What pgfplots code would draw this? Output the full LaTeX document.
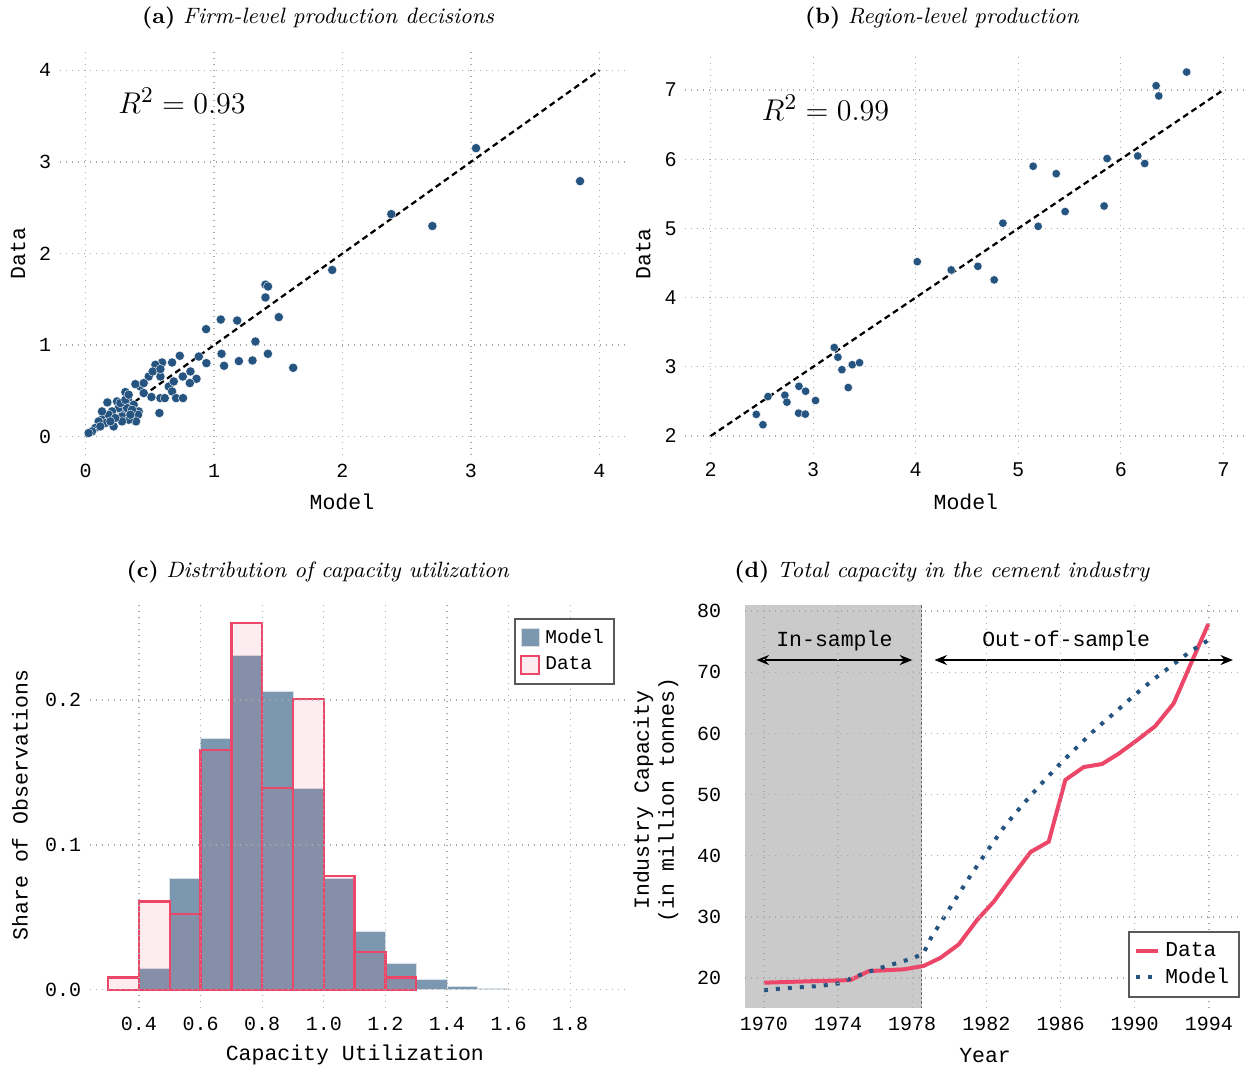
\documentclass[border=0pt]{standalone}
\usepackage{fontspec}
\usepackage{pgfplots}
\pgfplotsset{compat=1.18}
\usetikzlibrary{arrows.meta}
\newfontfamily\monofont{Liberation Mono}
\newfontfamily\sansfont{Liberation Sans}
\definecolor{dotblue}{RGB}{38,84,128}
\definecolor{modelfill}{RGB}{123,152,176}
\definecolor{datared}{RGB}{236,70,105}
\definecolor{shadegray}{RGB}{202,202,202}
\definecolor{gridgray}{RGB}{170,170,170}
\pgfplotsset{
  every axis title/.style={at={(0.5,1)}, anchor=center, font=\fontsize{8.9}{11}\selectfont},
  myaxis/.style={
    scale only axis,
    axis line style={draw=none},
    tick style={draw=none},
    major tick length=0pt,
    grid=major,
    major grid style={gridgray, dotted, line width=0.5pt},
    tick label style={font=\fontsize{8}{9}\monofont},
    /pgf/number format/assume math mode=true,
    label style={font=\fontsize{8.6}{10}\monofont},
    clip=false,
  },
}
\begin{document}
\begin{tikzpicture}
\useasboundingbox (0pt,0pt) rectangle (499.6pt,-427.2pt);
% ---------------- (a)
\begin{axis}[myaxis,
  at={(24pt,-20.8pt)}, anchor=north west,
  width=226pt, height=161.2pt,
  xmin=-0.2, xmax=4.2, ymin=-0.2, ymax=4.2,
  xtick={0,1,2,3,4}, ytick={0,1,2,3,4},
  xlabel={Model}, ylabel={Data},
  xlabel style={at={(axis description cs:0.499,-0.117)}, anchor=center},
  ylabel style={at={(axis description cs:-0.074,0.50)}, anchor=center},
  title={\textbf{(a)} \textit{Firm-level production decisions}},
  title style={at={(axis description cs:0.457,1.084)}},
]
\addplot[black, dash pattern=on 2.4pt off 1.6pt, line width=0.9pt] coordinates {(0,0) (4,4)};
\addplot[only marks, mark=*, mark size=1.85pt, mark options={fill=dotblue, draw=white, line width=0.15pt}] coordinates {
(3.04,3.15) (3.85,2.79) (2.38,2.43) (2.70,2.30) (1.92,1.82)
(1.40,1.66) (1.42,1.64) (1.40,1.52) (1.504,1.305) (1.052,1.279) (1.18,1.268)
(0.938,1.174) (1.322,1.039) (1.058,0.905) (1.193,0.825) (1.299,0.832) (1.419,0.905)
(1.078,0.774) (1.616,0.752) (0.94,0.803) (0.881,0.875) (0.816,0.712) (0.863,0.632)
(0.733,0.883) (0.811,0.585) (0.756,0.657) (0.673,0.81) (0.595,0.81) (0.543,0.785)
(0.491,0.657) (0.582,0.657) (0.647,0.548) (0.686,0.603) (0.673,0.494) (0.582,0.421)
(0.616,0.421) (0.704,0.421) (0.758,0.421) (0.574,0.258) (0.512,0.433) (0.426,0.548)
(0.387,0.574) (0.452,0.585) (0.309,0.487) (0.169,0.374) (0.244,0.385) (0.33,0.403)
(0.374,0.349) (0.413,0.276) (0.408,0.24) (0.392,0.167) (0.288,0.276) (0.283,0.221)
(0.335,0.185) (0.257,0.313) (0.205,0.276) (0.205,0.185) (0.14,0.221) (0.153,0.149)
(0.101,0.167) (0.218,0.112) (0.179,0.24) (0.075,0.095) (0.049,0.058) (0.114,0.112)
(0.283,0.167) (0.231,0.204) (0.192,0.167) (0.322,0.313) (0.361,0.294) (0.27,0.367)
(0.309,0.403) (0.023,0.04) (0.127,0.276) (0.348,0.24) (0.452,0.476) (0.335,0.458)
(0.522,0.712) (0.582,0.738)
};
\node[font=\fontsize{12.5}{15}\selectfont] at (axis cs:0.75,3.67) {$R^2=0.93$};
\end{axis}
% ---------------- (b)
\begin{axis}[myaxis,
  at={(274pt,-21.6pt)}, anchor=north west,
  width=225.6pt, height=160pt,
  xmin=1.75, xmax=7.25, ymin=1.74, ymax=7.52,
  xtick={2,3,4,5,6,7}, ytick={2,3,4,5,6,7},
  tick label style={font=\fontsize{8}{9}\sansfont},
  xlabel={Model}, ylabel={Data},
  xlabel style={at={(axis description cs:0.498,-0.12)}, anchor=center},
  ylabel style={at={(axis description cs:-0.074,0.50)}, anchor=center},
  title={\textbf{(b)} \textit{Region-level production}},
  title style={at={(axis description cs:0.456,1.09)}},
]
\addplot[black, dash pattern=on 2.4pt off 1.6pt, line width=0.9pt] coordinates {(2,2) (7,7)};
\addplot[only marks, mark=*, mark size=1.7pt, mark options={fill=dotblue, draw=white, line width=0.15pt}] coordinates {
(4.015,4.519) (4.346,4.40) (4.606,4.452) (4.765,4.256) (4.85,5.075) (5.145,5.898)
(5.194,5.03) (5.37,5.79) (5.457,5.243) (5.837,5.323) (5.866,6.009) (6.165,6.047)
(6.233,5.937) (6.344,7.062) (6.37,6.914) (6.642,7.259)
(2.559,2.570) (2.445,2.312) (2.51,2.163) (2.724,2.589) (2.744,2.489) (2.861,2.718)
(2.926,2.647) (2.858,2.33) (2.923,2.316) (3.023,2.513) (3.205,3.279) (3.241,3.139)
(3.28,2.958) (3.381,3.03) (3.452,3.059) (3.342,2.70)
};
\node[font=\fontsize{12.5}{15}\selectfont] at (axis cs:3.12,6.74) {$R^2=0.99$};
\end{axis}
% ---------------- (c)
\begin{axis}[myaxis,
  at={(36pt,-242pt)}, anchor=north west,
  width=214pt, height=161.2pt,
  xmin=0.241, xmax=1.978, ymin=-0.0126, ymax=0.2656,
  axis on top,
  xtick={0.4,0.6,...,1.81}, ytick={0,0.1,0.2},
  xticklabel style={/pgf/number format/.cd, fixed, fixed zerofill, precision=1},
  yticklabel style={/pgf/number format/.cd, fixed, fixed zerofill, precision=1},
  xlabel={Capacity Utilization}, ylabel={Share of Observations},
  xlabel style={at={(axis description cs:0.495,-0.117)}, anchor=center},
  ylabel style={at={(axis description cs:-0.131,0.504)}, anchor=center},
  title={\textbf{(c)} \textit{Distribution of capacity utilization}},
  title style={at={(axis description cs:0.426,1.082)}},
  legend style={at={(axis description cs:0.981,0.968)}, anchor=north east,
    font=\fontsize{7.8}{9}\monofont, draw=black!65, line width=0.8pt,
    inner sep=2pt, row sep=0pt},
  legend cell align=left,
  legend image code/.code={\draw[#1] (0pt,-3.6pt) rectangle (7.2pt,3.6pt);},
]
\addplot[ybar interval, fill=modelfill, draw=white!70!modelfill, line width=0.3pt] coordinates {
(0.4,0.0145) (0.5,0.077) (0.6,0.1735) (0.7,0.231) (0.8,0.2057) (0.9,0.139)
(1.0,0.077) (1.1,0.040) (1.2,0.0184) (1.3,0.0074) (1.4,0.0023) (1.5,0.0012) (1.6,0)
};
\addlegendentry{Model}
\addplot[ybar interval, fill=datared, fill opacity=0.1, draw=datared, draw opacity=1, line width=0.9pt] coordinates {
(0.3,0.0085) (0.4,0.061) (0.5,0.0524) (0.6,0.1655) (0.7,0.253) (0.8,0.1395)
(0.9,0.2007) (1.0,0.0786) (1.1,0.026) (1.2,0.0085) (1.3,0)
};
\addlegendentry{Data}
\end{axis}
% ---------------- (d)
\begin{axis}[myaxis,
  at={(298pt,-242pt)}, anchor=north west,
  width=198pt, height=161.2pt,
  xmin=1968.98, xmax=1995.68, ymin=15.1, ymax=81,
  axis on top,
  xtick={1970,1974,...,1994}, ytick={20,30,...,80},
  xticklabel style={/pgf/number format/1000 sep={}},
  yticklabel style={xshift=-6pt},
  xlabel={Year}, ylabel={Industry Capacity\\(in million tonnes)},
  xlabel style={at={(axis description cs:0.485,-0.117)}, anchor=center},
  ylabel style={at={(axis description cs:-0.18,0.516)}, anchor=center, align=center},
  title={\textbf{(d)} \textit{Total capacity in the cement industry}},
  title style={at={(axis description cs:0.398,1.082)}},
  legend style={at={(axis description cs:1,0.025)}, anchor=south east,
    font=\fontsize{8.5}{10}\monofont, draw=black!65, line width=0.8pt,
    inner sep=2pt, row sep=-1pt},
  legend cell align=left,
  legend image code/.code={\draw[#1] (0pt,0pt) -- (9pt,0pt);},
]
\addplot[fill=shadegray, draw=none, forget plot] coordinates {(1968.98,15.1) (1978.5,15.1) (1978.5,81) (1968.98,81)} -- cycle;
\draw[black!60, dash pattern=on 1pt off 0.8pt, line width=0.7pt] (axis cs:1978.5,15.1) -- (axis cs:1978.5,81);
\addplot[datared, line width=1.6pt] coordinates {
(1970.0,19.24) (1974.67,19.67) (1975.66,21.14) (1977.55,21.42) (1978.63,22.0)
(1979.52,23.3) (1980.51,25.5) (1981.5,29.5) (1982.4,32.5) (1983.39,36.6)
(1984.38,40.6) (1985.36,42.3) (1986.26,52.4) (1987.25,54.5) (1988.24,55.0)
(1989.14,56.7) (1990.13,58.9) (1991.11,61.2) (1992.1,64.9) (1993.0,71.2) (1993.97,77.9)
};
\addlegendentry{Data}
\addplot[dotblue, line width=1.6pt, dash pattern=on 1.6pt off 3.2pt] coordinates {
(1970,18.0) (1971,18.3) (1972,18.5) (1973,18.7) (1974,19.1) (1975,20.3)
(1976,21.4) (1977,22.3) (1978,23.2) (1978.6,24.0) (1979,26.5) (1980,31.3)
(1981,36.1) (1982,40.6) (1983,44.9) (1984,48.5) (1985,51.9) (1986,55.1)
(1987,58.1) (1988,61.0) (1989,63.6) (1990,66.3) (1991,68.8) (1992,71.1)
(1993,73.4) (1994,75.3)
};
\addlegendentry{Model}
\draw[{Stealth[length=5pt,width=4pt]}-{Stealth[length=5pt,width=4pt]}, line width=0.8pt] (axis cs:1969.6,72) -- (axis cs:1978.0,72);
\draw[{Stealth[length=5pt,width=4pt]}-{Stealth[length=5pt,width=4pt]}, line width=0.8pt] (axis cs:1979.2,72) -- (axis cs:1995.3,72);
\node[font=\fontsize{8.6}{10}\monofont] at (axis cs:1973.8,75.1) {In-sample};
\node[font=\fontsize{8.6}{10}\monofont] at (axis cs:1986.3,75.1) {Out-of-sample};
\end{axis}
\end{tikzpicture}
\end{document}
